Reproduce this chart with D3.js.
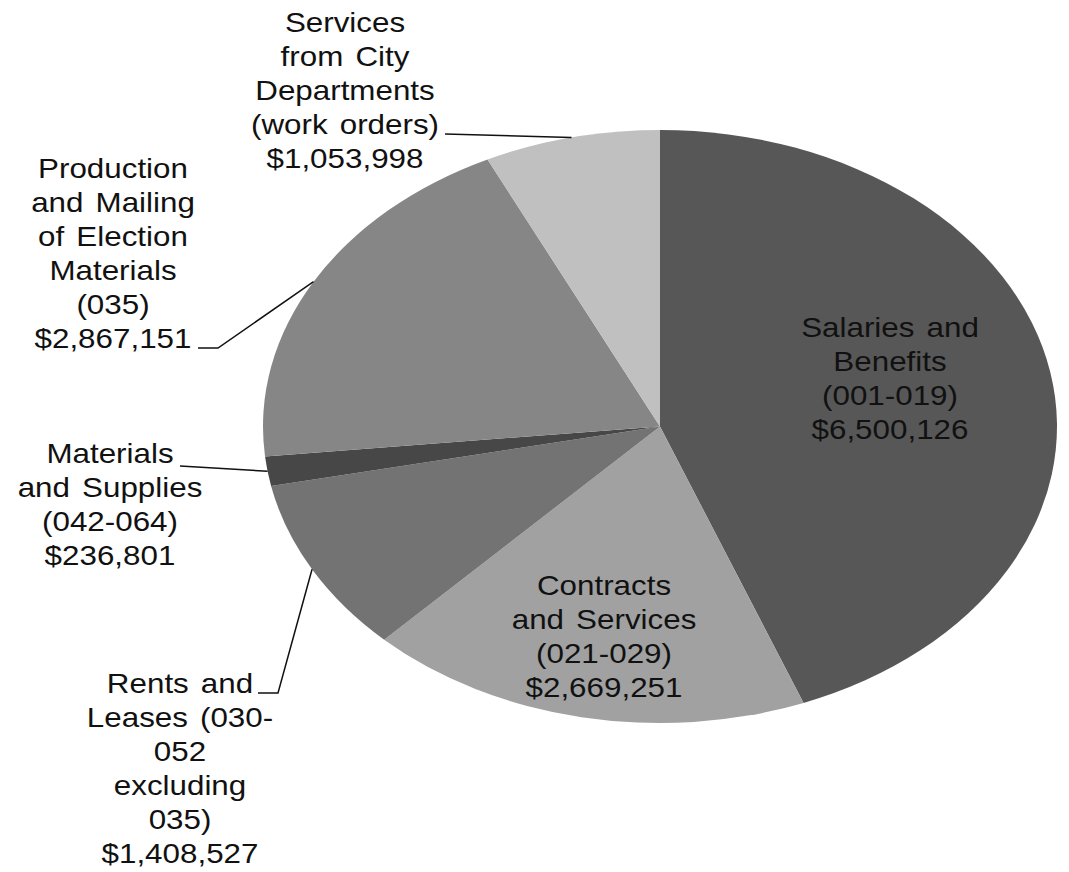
<!DOCTYPE html>
<html>
<head>
<meta charset="utf-8">
<script src="https://cdn.jsdelivr.net/npm/d3@7"></script>
<style>
  body { margin: 0; background: #fff; }
  text { font-family: "Liberation Sans", Arial, sans-serif; font-size: 28px; fill: #111; word-spacing: 3px; }
</style>
</head>
<body>
<div class="svg_container"></div>
<script>
// data, clockwise from 12 o'clock
var categories = ["Salaries and Benefits", "Contracts and Services", "Rents and Leases",
                  "Materials and Supplies", "Production and Mailing of Election Materials",
                  "Services from City Departments"];
var values = [6500126, 2669251, 1408527, 236801, 2867151, 1053998];
var labelText = [
  ["Salaries and", "Benefits", "(001-019)"],
  ["Contracts", "and Services", "(021-029)"],
  ["Rents and", "Leases (030-", "052", "excluding", "035)"],
  ["Materials", "and Supplies", "(042-064)"],
  ["Production", "and Mailing", "of Election", "Materials", "(035)"],
  ["Services", "from City", "Departments", "(work orders)"]
];
var sliceColors = ["#575757", "#a1a1a1", "#737373", "#474747", "#868686", "#c0c0c0"];

const WIDTH = 1069;
const HEIGHT = 872;
const CX = 660, CY = 426.5;
const RY = 296.5, RX = 397;
const SX = RX / RY;
const LINE_H = 34;
const TEXT_SX = 1.12;

// label layout: centre x, first baseline y, leader start and optional elbow
var labelLayout = [
  {x: 890, y: 337},
  {x: 604, y: 595},
  {x: 180, y: 693, from: [258, 693], elbow: [278, 693]},
  {x: 110, y: 463, from: [180, 466]},
  {x: 113, y: 178, from: [198, 348], elbow: [218, 348]},
  {x: 345, y: 32,  from: [445, 134]}
];

var money = d3.format("$,");

var translate = function(x, y) { return "translate(" + x + "," + y + ")"; };

var svg = d3.select('.svg_container').append('svg')
  .attr('width', WIDTH)
  .attr('height', HEIGHT);

var pie = d3.pie().sort(null).value(function(d) { return d; });
var arcs = pie(values);

var arc = d3.arc().innerRadius(0).outerRadius(RY);
var edgeArc = d3.arc().innerRadius(RY).outerRadius(RY);

var pieG = svg.append('g')
  .attr('transform', translate(CX, CY) + " scale(" + SX + ",1)");

pieG.selectAll('path')
  .data(arcs).enter().append('path')
  .attr('d', arc)
  .attr('fill', function(d, i) { return sliceColors[i]; });

// leader lines
var leader = d3.line();
arcs.forEach(function(a, i) {
  var l = labelLayout[i];
  if (!l.from) return;
  var c = edgeArc.centroid(a);
  var pts = [l.from];
  if (l.elbow) pts.push(l.elbow);
  pts.push([CX + c[0] * SX, CY + c[1]]);
  svg.append('path')
    .attr('d', leader(pts))
    .attr('fill', 'none')
    .attr('stroke', '#111')
    .attr('stroke-width', 1.5);
});

// labels
categories.forEach(function(name, i) {
  var l = labelLayout[i];
  var lines = labelText[i].concat([money(values[i])]);
  var g = svg.append('g')
    .attr('class', 'label')
    .attr('transform', translate(l.x, 0) + " scale(" + TEXT_SX + ",1)");
  g.selectAll('text')
    .data(lines).enter().append('text')
    .attr('x', 0)
    .attr('y', function(d, j) { return l.y + j * LINE_H; })
    .attr('text-anchor', 'middle')
    .text(function(d) { return d; });
});
</script>
</body>
</html>
